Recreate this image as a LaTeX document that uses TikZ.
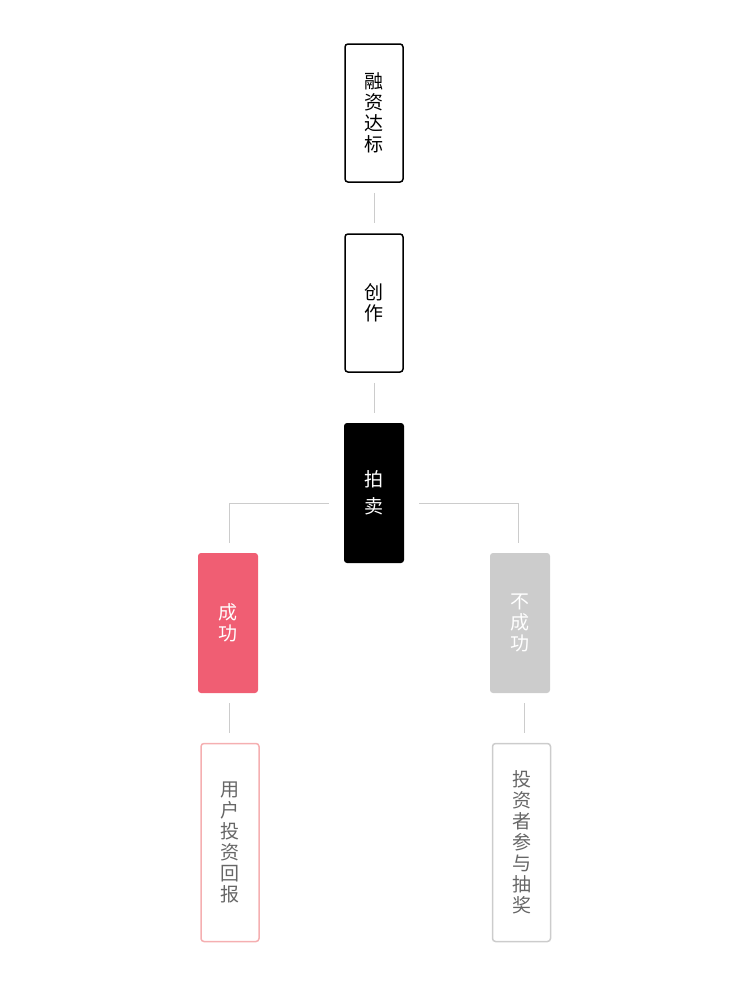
\documentclass[tikz,border=0pt]{standalone}
\usepackage{fontspec}
\setmainfont{Noto Sans CJK SC}
\definecolor{linegray}{HTML}{CCCCCC}
\definecolor{okpink}{HTML}{F05E73}
\definecolor{lightpink}{HTML}{F5AFB1}
\definecolor{textgray}{HTML}{666666}
\begin{document}
\begin{tikzpicture}[x=1pt, y=-1pt,
    box/.style={rounded corners=3pt, inner sep=0pt, align=center, minimum width=58pt, font=\fontsize{19}{21}\selectfont},
    stage/.style={box, draw=black, line width=1.5pt, minimum height=138pt},
    link/.style={linegray, line width=0.8pt, shorten <=10pt, shorten >=10pt}]
    \useasboundingbox (0,0) rectangle (750,985);

    % Fasi
    \node[stage] (funding) at (374,113) {融\\资\\达\\标};
    \node[stage] (create) at (374,303) {创\\作};
    \node[box, fill=black, text=white, minimum width=60pt, minimum height=140pt,
          font=\fontsize{19}{27}\selectfont] (auction) at (374,493) {拍\\卖};

    % Esiti
    \node[box, fill=okpink, text=white, minimum width=60pt, minimum height=140pt] (success) at (228,623) {成\\功};
    \node[box, fill=linegray, text=white, minimum width=60pt, minimum height=140pt] (fail) at (520,623) {不\\成\\功};

    \node[box, draw=lightpink, line width=1.5pt, text=textgray, minimum height=198pt] (reward) at (230,842.5) {用\\户\\投\\资\\回\\报};
    \node[box, draw=linegray, line width=1.5pt, text=textgray, minimum height=198pt] (lottery) at (521.5,842.5) {投\\资\\者\\参\\与\\抽\\奖};

    % Collegamenti
    \draw[link] (funding) -- (create);
    \draw[link] (create) -- (auction);
    \draw[link, shorten <=15pt] ([yshift=-10pt]auction.west) -| ([xshift=1pt]success.north);
    \draw[link, shorten <=15pt] ([yshift=-10pt]auction.east) -| ([xshift=-2pt]fail.north);
    \draw[link] ([xshift=1pt]success.south) -- ([xshift=-1pt]reward.north);
    \draw[link] ([xshift=4pt]fail.south) -- ([xshift=2.5pt]lottery.north);
\end{tikzpicture}
\end{document}
